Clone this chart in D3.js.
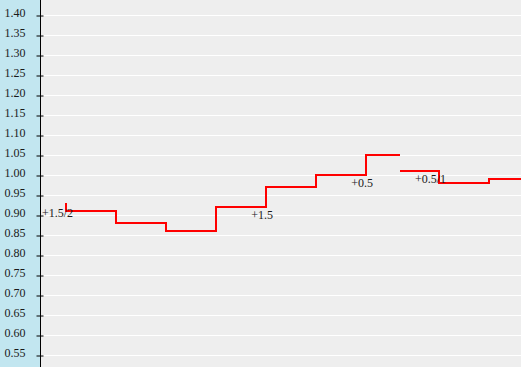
<!DOCTYPE html>
<html>
<head>
<meta charset="utf-8">
<script src="https://cdn.jsdelivr.net/npm/d3@7"></script>
<style>
  html, body { margin: 0; padding: 0; background: #eeeeee; }
  svg { display: block; }
</style>
</head>
<body>
<div id="chart"></div>
<script>
// odds movement, step line (null marks the break in the line)
const times = [0, 0, 1, 2, 3, 4, 5, 6, 6.68, null, 6.68, 7.46, 8.46, 9.2]
const odds = [0.93, 0.91, 0.88, 0.86, 0.92, 0.97, 1.00, 1.05, 1.05, null, 1.01, 0.98, 0.99, 0.99]

// handicap labels where the line changes
const labelTimes = [0, 4, 6, 7.46]
const labelOdds = [0.93, 0.92, 1.00, 1.01]
const labelTexts = ['+1.5/2', '+1.5', '+0.5', '+0.5/1']

const tickValues = [0.55, 0.60, 0.65, 0.70, 0.75, 0.80, 0.85, 0.90, 0.95, 1.00,
  1.05, 1.10, 1.15, 1.20, 1.25, 1.30, 1.35, 1.40]

const width = 521
const height = 367
const axisX = 40

const x = d3.scaleLinear().domain([-0.52, 9.1]).range([axisX, width])
const y = d3.scaleLinear().domain([0.52, 1.4375]).range([height, 0])

const svg = d3.select('#chart').append('svg')
  .attr('width', width)
  .attr('height', height)

svg.append('rect')
  .attr('x', 0).attr('y', 0)
  .attr('width', width).attr('height', height)
  .attr('fill', '#eeeeee')

svg.append('rect')
  .attr('x', 0).attr('y', 0)
  .attr('width', axisX).attr('height', height)
  .attr('fill', '#c2e6f0')

// grid
svg.append('g')
  .selectAll('line')
  .data(tickValues)
  .join('line')
  .attr('x1', axisX)
  .attr('x2', width)
  .attr('y1', d => Math.round(y(d)) + 0.5)
  .attr('y2', d => Math.round(y(d)) + 0.5)
  .attr('stroke', '#ffffff')
  .attr('stroke-width', 1)

// axis
const axis = d3.axisLeft(y)
  .tickValues(tickValues)
  .tickSizeInner(4)
  .tickSizeOuter(0)
  .tickFormat(d3.format('.2f'))

const axisG = svg.append('g')
  .attr('transform', `translate(${axisX + 0.5},0.5)`)
  .call(axis)
axisG.select('.domain').remove()
axisG.selectAll('.tick line')
  .attr('x1', -4)
  .attr('x2', 3)
  .attr('stroke', '#000')
axisG.selectAll('.tick text')
  .attr('x', -36)
  .attr('dy', '0.05em')
  .attr('text-anchor', 'start')
  .attr('fill', '#1a1a1a')
  .style('font-family', '"Liberation Serif", "Times New Roman", serif')
  .style('font-size', '12px')

svg.append('line')
  .attr('x1', axisX + 0.5).attr('x2', axisX + 0.5)
  .attr('y1', 0).attr('y2', height)
  .attr('stroke', '#000')

// step line
const points = times.map((t, i) => ({ t, v: odds[i] }))
const line = d3.line()
  .defined(d => d.v != null)
  .x(d => x(d.t))
  .y(d => y(d.v))
  .curve(d3.curveStepAfter)

svg.append('path')
  .datum(points)
  .attr('d', line)
  .attr('fill', 'none')
  .attr('stroke', '#ff0000')
  .attr('stroke-width', 2)
  .attr('shape-rendering', 'crispEdges')

// labels
svg.append('g')
  .selectAll('text')
  .data(labelTexts)
  .join('text')
  .attr('x', (d, i) => x(labelTimes[i]) + 7)
  .attr('y', (d, i) => y(labelOdds[i]) + (i === 0 ? 14 : 12))
  .attr('text-anchor', 'end')
  .attr('fill', '#1a1a1a')
  .style('font-family', '"Liberation Serif", "Times New Roman", serif')
  .style('font-size', '12px')
  .text(d => d)
</script>
</body>
</html>
